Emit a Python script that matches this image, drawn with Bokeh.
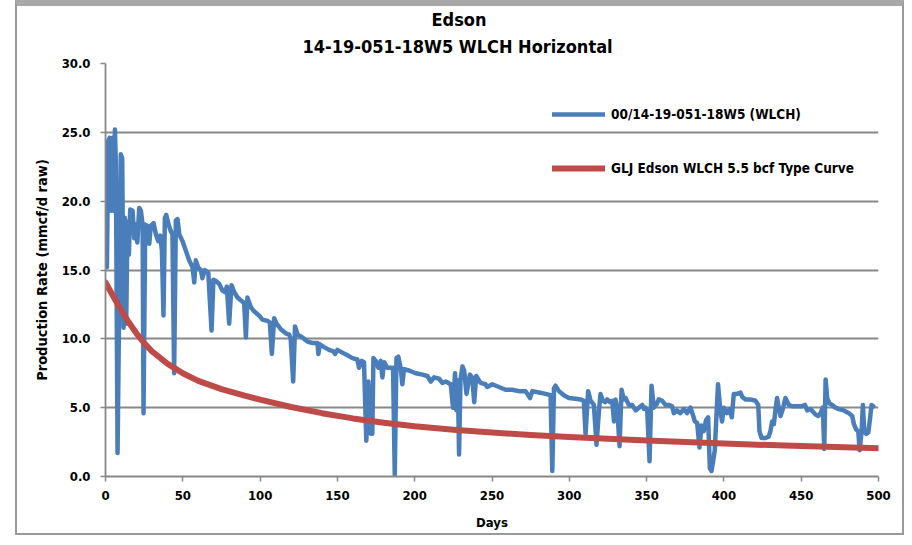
from bokeh.plotting import figure
from bokeh.models import (Legend, LegendItem, Title, FixedTicker, NumeralTickFormatter, Range1d)
from bokeh.embed import file_html
from bokeh.resources import INLINE

# ---- data ----
title_1 = "Edson"
title_2 = "14-19-051-18W5 WLCH Horizontal"
series_well = "00/14-19-051-18W5 (WLCH)"
series_type = "GLJ Edson WLCH 5.5 bcf Type Curve"
x_label = "Days"
y_label = "Production Rate (mmcf/d raw)"
x_ticks = [0, 50, 100, 150, 200, 250, 300, 350, 400, 450, 500]
y_ticks = [0, 5, 10, 15, 20, 25, 30]

well_days = [
    0.9, 1.8, 2.6, 3.5, 4.6, 5.2, 6.1, 6.7, 7.8, 9.9, 10.8, 11.7, 12.5, 13.4, 14.2, 15.1, 16.0, 17.5,
    18.6, 19.6, 20.6, 21.8, 22.9, 24.0, 24.6, 25.7, 27.2, 28.3, 29.3, 31.1, 32.6, 34.1, 35.4, 36.5,
    37.5, 38.4, 39.3, 40.8, 42.3, 43.3, 44.4, 45.5, 46.6, 47.7, 49.8, 52.0, 54.1, 56.3, 57.4, 58.4,
    59.9, 61.7, 62.7, 64.2, 66.5, 68.6, 69.8, 71.4, 73.5, 75.7, 77.2, 78.5, 80.0, 81.5, 83.2, 85.4,
    87.5, 89.7, 90.8, 91.8, 94.0, 96.1, 99.3,
    101.5, 104.8, 106.3, 107.6, 109.1, 110.6, 113.4, 116.6, 118.8, 119.8, 121.4, 122.6, 124.2, 127.4,
    130.6, 133.9, 137.1, 137.7, 138.6, 141.4, 144.6, 147.2, 148.5, 150.0, 153.2, 156.5, 159.7, 162.9,
    164.0, 165.7, 167.2, 168.7, 170.0, 171.6, 172.6, 173.3, 174.8, 176.5, 178.0, 179.1, 180.2, 182.3,
    184.5, 186.0, 187.1, 188.2, 189.4, 190.9, 192.0, 193.1, 196.3, 200.6,
    205.0, 208.2, 210.4, 212.5, 215.8, 217.9, 220.1, 223.3, 224.8, 226.1, 227.0, 227.9, 228.7, 229.6,
    230.9, 232.0, 233.5, 235.7, 237.2, 238.5, 239.8, 242.6, 245.8, 246.9, 250.2, 254.5, 258.8, 263.1,
    267.4, 271.7, 274.6, 276.1, 280.4, 284.7, 287.9, 289.0, 290.1, 291.1, 293.3, 296.5, 299.8, 304.1,
    307.3,
    309.4, 310.5, 312.2, 313.8, 315.9, 317.6, 319.2, 320.2, 321.7, 323.4, 324.5, 326.3, 327.8, 328.9,
    329.9, 331.0, 332.5, 333.8, 335.3, 336.4, 338.5, 340.7, 342.9, 345.0, 347.2, 348.3, 349.3, 350.4,
    351.9, 353.2, 354.7, 356.2, 357.9, 360.1, 362.2, 364.4, 366.5, 367.6, 369.7, 371.9, 374.1, 376.2,
    378.4, 379.9, 381.2, 382.7, 384.2, 385.5, 387.0, 388.5, 389.8, 390.9, 392.0, 393.0, 394.1, 394.9,
    396.2, 397.7, 398.8, 399.9, 402.0, 403.6, 405.1, 406.4, 408.4,
    410.7, 411.8, 414.0, 417.2, 420.4, 422.2, 423.0, 424.3, 426.9, 429.0, 430.1, 431.2, 432.3, 433.3,
    434.4, 435.5, 436.6, 438.1, 439.8, 442.0, 444.1, 447.4, 450.6, 452.4, 453.9, 456.0, 459.3, 461.0,
    462.5, 464.0, 464.9, 465.8, 466.8, 468.3, 470.1, 472.2, 474.4, 477.6, 480.9, 483.0, 484.1, 485.6,
    486.9, 487.8, 489.1, 489.9, 490.8, 492.1, 493.4, 494.5, 495.5, 496.6,
]
well_rate = [
    15.2, 24.4, 24.6, 19.3, 24.6, 19.3, 25.2, 22.8, 1.7, 23.4, 23.1, 10.8, 18.8, 11.1, 18.5, 16.1, 19.4, 19.3,
    17.3, 18.3, 17.0, 19.5, 19.3, 18.3, 4.6, 18.3, 18.2, 16.9, 18.2, 18.4, 17.6, 17.1, 17.5, 16.4,
    11.7, 18.8, 19.0, 18.3, 17.8, 17.6, 7.5, 18.6, 18.7, 17.6, 17.1, 16.4, 15.7, 15.2, 14.1, 15.7,
    15.2, 15.0, 14.4, 15.0, 14.8, 10.6, 14.3, 14.2, 14.0, 13.5, 13.4, 13.8, 11.1, 13.9, 13.4, 13.0,
    12.8, 12.6, 10.1, 13.0, 12.3, 12.0, 11.7,
    11.4, 11.3, 11.2, 8.9, 11.5, 11.1, 10.7, 10.4, 10.3, 10.0, 6.9, 10.9, 10.3, 10.1,
    9.8, 9.7, 9.7, 8.9, 9.6, 9.4, 9.2, 9.1, 8.9, 9.2, 9.0, 8.8, 8.6, 8.5,
    7.9, 8.4, 8.3, 2.6, 6.9, 3.1, 3.1, 8.6, 8.4, 7.9, 8.4, 7.2, 8.3, 7.9,
    7.9, 7.9, 0.1, 8.6, 8.7, 7.9, 6.7, 7.8, 7.7, 7.5,
    7.4, 7.3, 6.9, 7.2, 7.1, 6.8, 6.9, 6.7, 5.0, 7.5, 4.8, 7.0, 1.6, 7.0,
    8.0, 7.7, 6.0, 7.4, 7.2, 5.4, 7.3, 6.8, 6.7, 6.5, 6.7, 6.5, 6.3, 6.3,
    6.2, 6.2, 5.7, 6.2, 6.1, 6.0, 5.9, 0.4, 6.4, 6.6, 6.2, 5.9, 5.7, 5.65,
    5.6,
    5.5, 3.1, 6.2, 5.5, 5.2, 2.3, 4.8, 6.0, 5.5, 5.4, 5.6, 5.4, 5.5, 4.0,
    5.6, 5.0, 2.2, 6.3, 5.6, 5.7, 5.2, 5.2, 4.8, 5.0, 5.2, 4.9, 5.0, 4.8,
    1.1, 6.6, 5.0, 5.2, 5.6, 5.5, 5.2, 5.2, 5.1, 4.6, 4.8, 4.6, 4.9, 4.6,
    5.0, 4.5, 4.0, 3.9, 2.1, 3.7, 3.3, 4.1, 4.3, 0.6, 0.4, 1.1, 1.9, 3.8,
    6.7, 4.8, 4.0, 5.0, 4.6, 4.9, 4.3, 6.0, 6.0,
    6.1, 5.8, 5.6, 5.6, 5.5, 5.2, 3.3, 2.8, 2.8, 2.9, 3.3, 4.0, 3.8, 4.8,
    5.7, 5.0, 4.4, 4.9, 5.7, 5.2, 5.1, 5.1, 5.1, 5.2, 4.8, 4.9, 4.5, 4.4,
    4.6, 5.0, 2.0, 7.05, 5.7, 5.3, 5.2, 5.0, 4.9, 4.8, 4.6, 4.4, 3.8, 3.4,
    3.3, 1.9, 3.3, 5.2, 3.3, 3.1, 3.2, 4.2, 5.2, 5.1,
]

type_days = [0, 5, 10, 15, 20, 25, 30, 40, 50, 60, 75, 90, 100, 120, 140, 160, 180, 200,
             225, 250, 275, 300, 350, 400, 450, 500]
type_rate = [14.1, 13.1, 12.1, 11.2, 10.4, 9.7, 9.1, 8.2, 7.5, 6.95, 6.35, 5.87, 5.58, 5.05, 4.6,
             4.22, 3.91, 3.65, 3.4, 3.19, 3.02, 2.87, 2.61, 2.39, 2.21, 2.05]

# ---- styling ----
FONT = "'DejaVu Sans Condensed', 'Liberation Sans Narrow', sans-serif"
BLUE = "#4a7ebb"
RED = "#be4b48"
GRID = "#888888"

p = figure(width=889, height=535, output_backend="svg", toolbar_location=None,
           x_range=Range1d(0, 500), y_range=Range1d(0, 30),
           min_border_left=88, min_border_right=28, min_border_top=57, min_border_bottom=65)
p.styles = {"margin-left": "15px", "margin-top": "0px",
            "border-left": "2px solid #9a9a9a", "border-right": "2px solid #9a9a9a",
            "border-bottom": "2px solid #9a9a9a", "border-top": "6px solid #a8a8a8"}
p.outline_line_color = None
p.background_fill_color = "white"
p.border_fill_color = "white"

r_well = p.line(well_days, well_rate, line_color=BLUE, line_width=4.5,
                line_join="round", line_cap="round")
r_type = p.line(type_days, type_rate, line_color=RED, line_width=6,
                line_join="round", line_cap="round")

p.xgrid.visible = False
p.ygrid.grid_line_color = GRID
p.ygrid.grid_line_width = 1.8
p.ygrid.ticker = FixedTicker(ticks=y_ticks)

for ax in (p.xaxis[0], p.yaxis[0]):
    ax.axis_line_color = GRID
    ax.axis_line_width = 1.8
    ax.major_tick_line_color = GRID
    ax.major_tick_line_width = 1.5
    ax.major_tick_out = 5
    ax.major_tick_in = 0
    ax.minor_tick_out = 0
    ax.minor_tick_in = 0
    ax.major_label_text_font = FONT
    ax.major_label_text_font_style = "bold"
    ax.major_label_text_font_size = "13px"
    ax.major_label_text_color = "black"
    ax.axis_label_text_font = FONT
    ax.axis_label_text_font_style = "bold"
    ax.axis_label_text_color = "black"

p.xaxis.ticker = FixedTicker(ticks=x_ticks)
p.yaxis.ticker = FixedTicker(ticks=y_ticks)
p.yaxis.formatter = NumeralTickFormatter(format="0.0")
p.xaxis.axis_label = x_label
p.yaxis.axis_label = y_label
p.xaxis.axis_label_text_font_size = "13px"
p.yaxis.axis_label_text_font_size = "14.5px"
p.yaxis.major_label_standoff = 10
p.xaxis.major_label_standoff = 9
p.yaxis.axis_label_standoff = 9
p.xaxis.axis_label_standoff = 12

# titles: second line nearest the plot, first line above it
p.add_layout(Title(text=title_2, align="left", offset=197, standoff=7.8, vertical_align="top",
                   text_font=FONT, text_font_style="bold", text_font_size="18px",
                   text_color="black"), "above")
p.add_layout(Title(text=title_1, align="left", offset=326, standoff=2, vertical_align="top",
                   text_font=FONT, text_font_style="bold", text_font_size="18px",
                   text_color="black"), "above")

legend = Legend(items=[LegendItem(label=series_well, renderers=[r_well]),
                       LegendItem(label=series_type, renderers=[r_type])],
                location=(447, 298), orientation="vertical",
                glyph_width=53, glyph_height=20, label_standoff=6, spacing=34,
                padding=0, margin=0,
                background_fill_alpha=0, border_line_alpha=0,
                label_text_font=FONT, label_text_font_style="bold",
                label_text_font_size="13.5px", label_text_color="black")
p.add_layout(legend)

open("out.html", "w").write(file_html(p, INLINE))
